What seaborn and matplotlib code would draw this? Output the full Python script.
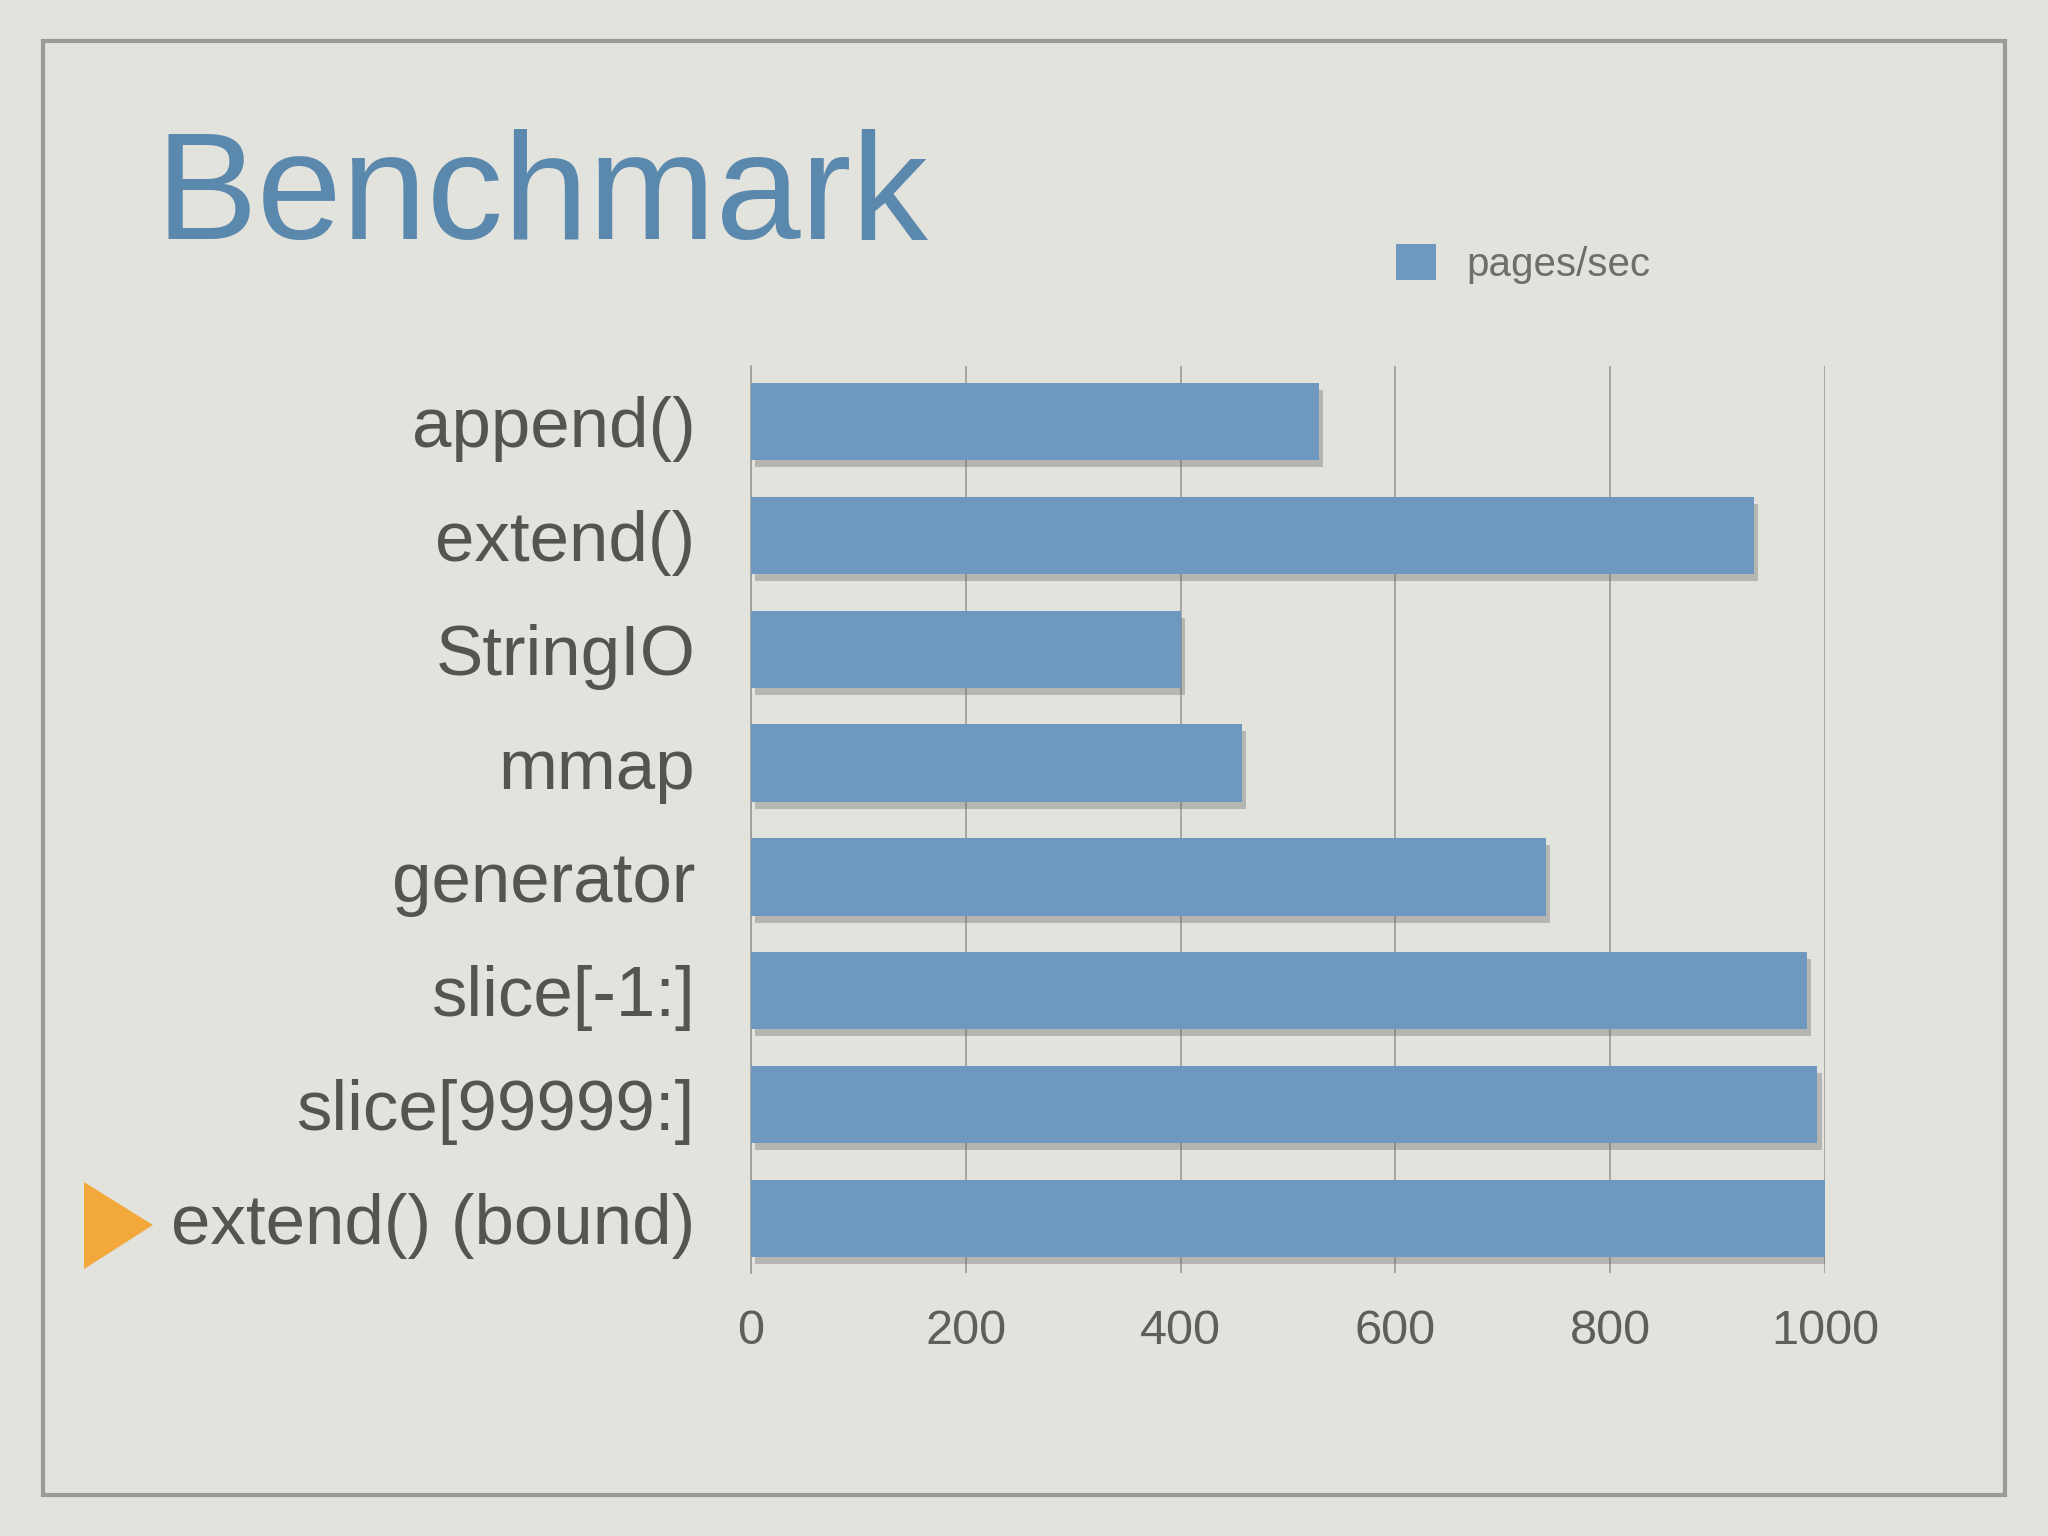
import matplotlib
matplotlib.use("Agg")
import matplotlib.pyplot as plt
import matplotlib.patheffects as pe
from matplotlib.patches import Polygon, Rectangle, Patch
import seaborn as sns
import pandas as pd

categories = ["append()", "extend()", "StringIO", "mmap", "generator",
              "slice[-1:]", "slice[99999:]", "extend() (bound)"]
pages_per_sec = [529, 934, 400, 457, 740, 983, 993, 1000]
x_ticks = [0, 200, 400, 600, 800, 1000]
series_name = "pages/sec"
title = "Benchmark"

BG = "#e3e3dd"
BAR = "#6f98c1"
TEXT = "#545450"

sns.set_theme(style="white")
plt.rcParams["font.family"] = ["Liberation Sans", "DejaVu Sans"]

fig = plt.figure(figsize=(20.48, 15.36), dpi=100, facecolor=BG)
ax = fig.add_axes([751/2048, 1-1273/1536, (1825-751)/2048, (1273-366)/1536])
ax.set_facecolor(BG)

df = pd.DataFrame({"category": categories, "value": pages_per_sec})
sns.barplot(data=df, x="value", y="category", orient="h", color=BAR,
            width=0.68, saturation=1, ax=ax, linewidth=0, edgecolor="none")
for p in ax.patches:
    p.set_path_effects([pe.SimplePatchShadow(offset=(3, -5), shadow_rgbFace="#606060", alpha=0.35),
                        pe.Normal()])
    p.set_zorder(3)

ax.set_xlim(0, 1000)
ax.set_ylim(len(categories) - 1 + 0.48, -0.49)
ax.set_xticks(x_ticks)
ax.set_xticklabels([str(t) for t in x_ticks])
ax.xaxis.grid(True, color="#9c9c98", linewidth=1.2, zorder=0)
ax.set_axisbelow(True)
for s in ["top", "right", "bottom"]:
    ax.spines[s].set_visible(False)
ax.spines["left"].set_color("#9c9c98")
ax.spines["left"].set_linewidth(1.2)
ax.tick_params(axis="x", length=0, pad=26, labelsize=35, labelcolor="#5e5e5a")
ax.tick_params(axis="y", length=0, pad=40, labelsize=51, labelcolor=TEXT)
ax.set_xlabel("")
ax.set_ylabel("")
if ax.get_legend() is not None:
    ax.get_legend().remove()

handle = Patch(facecolor=BAR, edgecolor="none")
fig.legend([handle], [series_name], loc="center left",
           bbox_to_anchor=(1396/2048, 1-264/1536), frameon=False,
           fontsize=29, labelcolor="#6e6e6a", handlelength=1.0, handleheight=1.0,
           handletextpad=0.75, borderpad=0, borderaxespad=0)

fig.text(155/2048, 1-239/1536, title, fontsize=110, color="#5b88ad",
         va="baseline", ha="left")

# slide frame
fig.patches.append(Rectangle((43/2048, 41/1536), (2005-43)/2048, (1495-41)/1536,
                             transform=fig.transFigure, fill=False,
                             edgecolor="#9a9a98", linewidth=3))
# orange bullet marker
fig.patches.append(Polygon([(84/2048, 1-1182/1536), (84/2048, 1-1269/1536),
                            (153/2048, 1-1225/1536)], closed=True,
                           transform=fig.transFigure, facecolor="#f2a83b",
                           edgecolor="none"))

fig.savefig("out.png", dpi=100, facecolor=BG)
